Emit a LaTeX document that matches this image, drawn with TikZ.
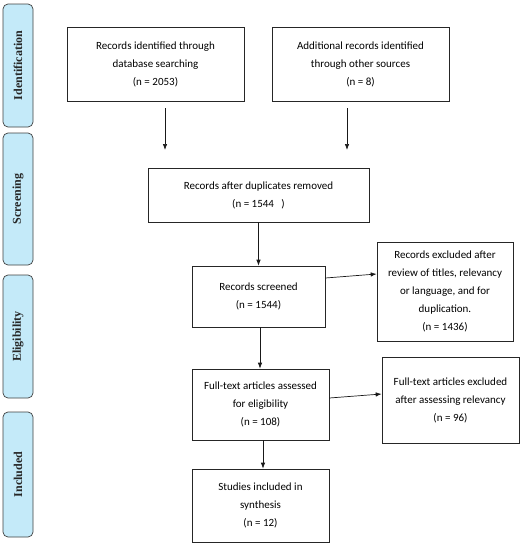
\documentclass[tikz,border=0pt]{standalone}
\usepackage{fontspec}
\setmainfont{Carlito}
\newfontfamily\sideserif{Liberation Serif}
\usetikzlibrary{arrows.meta,calc}
\definecolor{phasefill}{HTML}{C4EAF9}
\tikzset{
  box/.style={draw=black!85, line width=0.7pt, fill=white, align=center, inner sep=2pt,
     font=\fontsize{11}{18}\selectfont, text=black},
  phase/.style={draw=black!75, line width=0.7pt, fill=phasefill, rounded corners=5pt,
     minimum height=30pt, font=\sideserif\bfseries\fontsize{12}{13}\selectfont, text=black!85, rotate=90},
  arr/.style={draw=black!90, line width=0.7pt, -{Latex[length=6pt,width=4.5pt]}}
}
\begin{document}
\begin{tikzpicture}[x=1pt,y=-1pt]
\useasboundingbox (0,0) rectangle (524,550);
% phase boxes
\node[phase, minimum width=123pt] (p1) at (18,65.5) {Identification};
\node[phase, minimum width=132pt] (p2) at (18,199) {Screening};
\node[phase, minimum width=123pt] (p3) at (18,336.5) {Eligibility};
\node[phase, minimum width=125pt] (p4) at (18,474.5) {Included};
% main boxes
\node[box, minimum width=177pt, minimum height=74pt] (b1) at (155.5,64) {Records identified through\\database searching\\(n = 2053)};
\node[box, minimum width=177pt, minimum height=74pt] (b2) at (360.5,64) {Additional records identified\\through other sources\\(n = 8)};
\node[box, minimum width=221pt, minimum height=54pt] (b3) at (258.5,195) {Records after duplicates removed\\(n = 1544\ \ \ )};
\node[box, minimum width=133pt, minimum height=61pt] (sc) at (258.5,296.5) {Records screened\\(n = 1544)};
\node[box, minimum width=136pt, minimum height=99pt] (ex1) at (445,291.5) {Records excluded after\\review of titles, relevancy\\or language, and for\\duplication.\\(n = 1436)};
\node[box, minimum width=137pt, minimum height=71pt] (ft) at (260.5,404.5) {Full-text articles assessed\\for eligibility\\(n = 108)};
\node[box, minimum width=137pt, minimum height=86pt] (ex2) at (450.5,400) {Full-text articles excluded\\after assessing relevancy\\(n = 96)};
\node[box, minimum width=137pt, minimum height=73pt] (st) at (260.5,505.5) {Studies included in\\synthesis\\(n = 12)};
% free arrows
\coordinate (a1s) at (165,108);
\coordinate (a1e) at (165,150);
\coordinate (a2s) at (347,108);
\coordinate (a2e) at (347,150);
\draw[arr] (a1s) -- (a1e);
\draw[arr] (a2s) -- (a2e);
% connectors
\draw[arr] (b3.south) -- (sc.north);
\draw[arr] ([yshift=18.5pt]sc.east) -- ([yshift=17.5pt]ex1.west);
\draw[arr] ([xshift=1.5pt]sc.south) -- ([xshift=-0.5pt]ft.north);
\draw[arr] ([yshift=6.5pt]ft.east) -- ([yshift=6pt]ex2.west);
\draw[arr] ([xshift=2.5pt]ft.south) -- ([xshift=2.5pt]st.north);
\end{tikzpicture}
\end{document}
